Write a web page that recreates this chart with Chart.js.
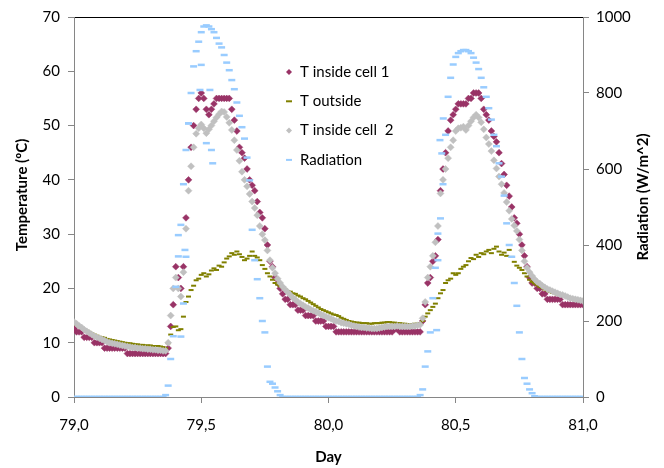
<!DOCTYPE html>
<html>
<head>
<meta charset="utf-8">
<script src="https://cdn.jsdelivr.net/npm/chart.js@4.4.1/dist/chart.umd.min.js"></script>
<style>
  body { margin: 0; background: #fff; }
  #wrap { width: 664px; height: 468px; }
</style>
</head>
<body>
<div id="wrap"><canvas id="chart" width="664" height="468"></canvas></div>
<script>
// one reading every 0.01 day, from day 79.00 to 81.00
const startDay = 79;
const stepDay = 0.01;

const tInsideCell1 = [
  12.6, 12, 12, 12, 11, 11, 11, 11, 10, 10,
  10, 10, 9, 9, 9, 9, 9, 9, 9, 9,
  9, 8, 8, 8, 8, 8, 8, 8, 8, 8,
  8, 8, 8, 8, 8, 8, 8, 9, 13, 17,
  24, 22, 20, 24, 33, 40, 46, 50, 53, 55,
  56, 55, 53, 52, 53, 54, 55, 55, 55, 55,
  55, 55, 53, 51, 49, 46, 45, 44, 42, 40,
  39, 38, 36, 34, 33, 31, 28, 25, 24, 22,
  21, 20, 19, 18, 18, 17, 17, 17, 16, 16,
  16, 15, 15, 15, 15, 14, 14, 14, 14, 13,
  13, 13, 13, 12, 12, 12, 12, 12, 12, 12,
  12, 12, 12, 12, 12, 12, 12, 12, 12, 12,
  12, 12, 12, 12, 12, 12, 12.5, 12.5, 12, 12,
  12, 12, 12, 12, 12, 12, 12, 14, 17, 21,
  22, 25, 26, 29, 38, 42, 45, 49, 51, 52,
  53, 54, 54, 54, 54, 55, 55, 56, 56, 56,
  55, 53, 52, 51, 49, 48, 47, 45, 43, 41,
  39, 37, 35, 33, 32, 30, 28, 26, 24, 22,
  21, 21, 20, 20, 19, 19, 18, 18, 18, 18,
  18, 18, 17, 17, 17, 17, 17, 17, 17, 17,
  17
];

const tOutside = [
  13.6, 13.3, 13.0, 12.7, 12.4, 12.2, 12.0, 11.7, 11.5, 11.3,
  11.1, 11.0, 10.9, 10.7, 10.6, 10.5, 10.4, 10.3, 10.2, 10.1,
  10.0, 9.9, 9.9, 9.8, 9.7, 9.7, 9.6, 9.6, 9.5, 9.5,
  9.5, 9.4, 9.4, 9.4, 9.3, 9.2, 9.0, 9.9, 11.5, 12.9,
  13.0, 12.3, 12.5, 14.8, 17.5, 18.5, 19.7, 20.5, 21.5, 21.8,
  22.5, 22.8, 22.2, 22.6, 23.3, 23.7, 23.4, 24.2, 24.0, 24.8,
  25.5, 25.9, 26.5, 26.2, 26.8, 26.3, 25.8, 25.2, 25.5, 26.0,
  26.8, 26.0, 25.7, 25.2, 24.3, 23.6, 22.8, 22.2, 21.6, 21.0,
  20.7, 20.4, 20.2, 19.8, 19.5, 19.4, 19.1, 19.0, 18.7, 18.5,
  18.2, 18.0, 17.7, 17.4, 17.1, 16.8, 16.5, 16.2, 16.0, 15.8,
  15.6, 15.4, 15.2, 15.1, 14.9, 14.6, 14.4, 14.2, 14.0, 13.9,
  13.8, 13.7, 13.7, 13.6, 13.6, 13.6, 13.5, 13.5, 13.6, 13.6,
  13.6, 13.7, 13.7, 13.8, 13.8, 13.7, 13.7, 13.6, 13.6, 13.5,
  13.5, 13.4, 13.4, 13.4, 13.5, 13.5, 13.6, 14.0, 14.8, 15.4,
  16.0, 16.6, 17.2, 18.2, 19.1, 19.7, 21.0, 21.5, 21.8, 22.8,
  22.5, 22.8, 23.6, 24.0, 24.3, 25.0, 25.6, 25.4, 26.2, 25.8,
  26.5, 26.3, 26.8, 27.1, 26.5, 27.3, 27.7, 26.8, 26.2, 26.6,
  26.0, 27.1, 25.8, 24.9, 24.2, 23.8, 23.4, 22.8, 22.2, 21.6,
  21.2, 20.9, 20.6, 20.3, 20.1, 19.8, 19.6, 19.4, 19.2, 19.1,
  18.9, 18.8, 18.7, 18.6, 18.5, 18.3, 18.2, 18.1, 18.0, 17.9,
  17.9
];

const tInsideCell2 = [
  13.8, 13.5, 13.1, 12.8, 12.4, 12.1, 11.8, 11.5, 11.2, 11.0,
  10.8, 10.6, 10.4, 10.2, 10.0, 9.9, 9.8, 9.7, 9.6, 9.5,
  9.4, 9.3, 9.2, 9.1, 9.1, 9.0, 9.0, 8.9, 8.9, 8.8,
  8.8, 8.7, 8.7, 8.6, 8.6, 8.5, 8.5, 10, 15, 20,
  22, 20, 18.5, 23, 31, 38, 42.5, 46, 48.5, 49.5,
  50.2, 49.5, 48.6, 49.3, 50, 50.8, 51.5, 52.1, 52.6, 52.5,
  51.6, 50.5, 49.2, 47.3, 45.5, 43.5, 41.5, 40.0, 38.8, 37.4,
  36, 34.8, 33.5, 31.5, 30, 28.9, 27, 25.2, 23.8, 22.8,
  21.8, 21, 20.3, 19.8, 19.3, 18.8, 18.3, 17.9, 17.5, 17.2,
  16.9, 16.6, 16.4, 16.1, 15.9, 15.7, 15.5, 15.2, 15.0, 14.8,
  14.6, 14.4, 14.2, 14.0, 13.9, 13.7, 13.6, 13.5, 13.4, 13.2,
  13.1, 13.0, 12.9, 12.8, 12.8, 12.7, 12.7, 12.6, 12.6, 12.6,
  12.7, 12.8, 12.9, 13.0, 13.0, 13.0, 13.0, 13.1, 13.0, 13.0,
  13.0, 13.0, 13.0, 13.1, 13.1, 13.2, 13.3, 14.5, 17.5, 22,
  24, 26, 28.5, 31.5, 37.5, 40, 42, 44, 46, 47.3,
  49, 49.5, 49.6, 49.8, 49.2, 50, 50.8, 51.5, 52, 51.5,
  50.6, 49.3, 47.8, 46.6, 45.3, 43.6, 42.1, 40.6, 39.2, 37.6,
  35.9, 34.3, 32.8, 31.6, 30.6, 29, 27, 25, 23.8, 23,
  22.3, 21.7, 21.2, 20.9, 20.5, 20.2, 19.9, 19.7, 19.5, 19.3,
  19.1, 18.9, 18.8, 18.6, 18.4, 18.2, 18.1, 18.0, 17.9, 17.8,
  17.7
];

const radiation = [
  0, 0, 0, 0, 0, 0, 0, 0, 0, 0,
  0, 0, 0, 0, 0, 0, 0, 0, 0, 0,
  0, 0, 0, 0, 0, 0, 0, 0, 0, 0,
  0, 0, 0, 0, 0, 0, 5, 30, 100, 160,
  290, 370, 453, 560, 650, 720, 800, 870, 910, 935,
  960, 975, 978, 975, 968, 960, 945, 930, 920, 900,
  880, 860, 834, 810, 775, 740, 710, 680, 630, 570,
  440, 360, 310, 260, 200, 170, 80, 40, 35, 25,
  15, 5, 0, 0, 0, 0, 0, 0, 0, 0,
  0, 0, 0, 0, 0, 0, 0, 0, 0, 0,
  0, 0, 0, 0, 0, 0, 0, 0, 0, 0,
  0, 0, 0, 0, 0, 0, 0, 0, 0, 0,
  0, 0, 0, 0, 0, 0, 0, 0, 0, 0,
  0, 0, 0, 0, 0, 0, 5, 20, 80, 120,
  170, 260, 340, 430, 470, 560, 690, 790, 840, 875,
  895, 905, 910, 913, 913, 910, 905, 893, 880, 863,
  840, 815, 790, 760, 730, 690, 660, 615, 580, 530,
  457, 400, 369, 300, 240, 170, 100, 50, 35, 20,
  10, 2, 0, 0, 0, 0, 0, 0, 0, 0,
  0, 0, 0, 0, 0, 0, 0, 0, 0, 0,
  0
];

// scattered radiation readings (passing clouds) off the main curve
const radiationExtraDays = [79.41, 79.42, 79.43, 79.436, 79.44, 79.45, 79.495, 79.50, 79.52, 79.534, 79.54, 79.545, 80.425, 80.43, 80.438, 80.445, 80.451];
const radiationExtraValues = [426, 159, 246, 387, 369, 720, 808, 874, 668, 808, 650, 615, 176, 360, 676, 641, 733];

const xTicks = [79, 79.5, 80, 80.5, 81];

const colorCell1 = '#993366';
const colorOutside = '#808000';
const colorCell2 = '#C0C0C0';
const colorRadiation = '#99CCFF';

const days = tInsideCell1.map((_, i) => +(startDay + i * stepDay).toFixed(2));
const toPoints = (values) => values.map((v, i) => ({ x: days[i], y: v }));

const radiationPoints = toPoints(radiation).concat(
  radiationExtraDays.map((d, i) => ({ x: d, y: radiationExtraValues[i] }))
);

Chart.defaults.font.family = 'Lato';
Chart.defaults.color = '#000';

const axisGray = '#868686';

const legendItems = [
  { text: 'T inside cell 1', style: 'diamond', color: colorCell1 },
  { text: 'T outside', style: 'dash', color: colorOutside },
  { text: 'T inside cell  2', style: 'diamond', color: colorCell2 },
  { text: 'Radiation', style: 'dash', color: colorRadiation }
];

const overlayPlugin = {
  id: 'overlay',
  afterDraw(chart) {
    const ctx = chart.ctx;
    ctx.save();
    // legend inside the plot
    ctx.font = '15px Lato';
    ctx.textBaseline = 'middle';
    ctx.textAlign = 'left';
    legendItems.forEach((item, i) => {
      const y = 72 + i * 29.3;
      ctx.fillStyle = item.color;
      if (item.style === 'diamond') {
        ctx.beginPath();
        ctx.moveTo(289, y - 3);
        ctx.lineTo(292, y);
        ctx.lineTo(289, y + 3);
        ctx.lineTo(286, y);
        ctx.closePath();
        ctx.fill();
      } else {
        ctx.fillRect(286, y - 1, 6, 2);
      }
      ctx.fillStyle = '#000';
      ctx.fillText(item.text, 300, y);
    });
    // vertical axis titles
    ctx.font = 'bold 15px Lato';
    ctx.textAlign = 'center';
    ctx.translate(22, 195);
    ctx.rotate(-Math.PI / 2);
    ctx.fillText('Temperature (ºC)', 0, 0);
    ctx.restore();
    ctx.save();
    ctx.font = 'bold 15px Lato';
    ctx.textAlign = 'center';
    ctx.textBaseline = 'middle';
    ctx.fillStyle = '#000';
    ctx.translate(643, 197);
    ctx.rotate(-Math.PI / 2);
    ctx.fillText('Radiation (W/m^2)', 0, 0);
    ctx.restore();
  }
};

new Chart(document.getElementById('chart'), {
  type: 'scatter',
  data: {
    datasets: [
      {
        label: 'T inside cell 1',
        data: toPoints(tInsideCell1),
        yAxisID: 'y',
        order: 3,
        pointStyle: 'rectRot',
        pointRadius: 3.4,
        pointBackgroundColor: colorCell1,
        pointBorderColor: colorCell1,
        pointBorderWidth: 0.5
      },
      {
        label: 'T outside',
        data: toPoints(tOutside),
        yAxisID: 'y',
        order: 2,
        pointStyle: 'line',
        pointRadius: 2.5,
        pointBorderColor: colorOutside,
        pointBorderWidth: 2
      },
      {
        label: 'T inside cell  2',
        data: toPoints(tInsideCell2),
        yAxisID: 'y',
        order: 1,
        pointStyle: 'rectRot',
        pointRadius: 3.5,
        pointBackgroundColor: colorCell2,
        pointBorderColor: colorCell2,
        pointBorderWidth: 0.5
      },
      {
        label: 'Radiation',
        data: radiationPoints,
        yAxisID: 'y1',
        order: 0,
        pointStyle: 'line',
        pointRadius: 3.5,
        pointBorderColor: colorRadiation,
        pointBorderWidth: 2.5
      }
    ]
  },
  options: {
    responsive: false,
    animation: false,
    events: [],
    layout: { padding: 0 },
    plugins: {
      legend: { display: false },
      tooltip: { enabled: false }
    },
    scales: {
      x: {
        type: 'linear',
        position: 'bottom',
        min: 79,
        max: 81,
        afterBuildTicks: (scale) => { scale.ticks = xTicks.map(v => ({ value: v })); },
        afterFit: (scale) => { scale.height = 71; },
        grid: { display: true, drawOnChartArea: false, tickLength: 6, color: axisGray },
        border: { display: true, color: axisGray, width: 1 },
        ticks: {
          padding: 13,
          font: { size: 15 },
          callback: (v) => v.toFixed(1).replace('.', ',')
        },
        title: {
          display: true,
          text: 'Day',
          font: { size: 15, weight: 'bold' },
          padding: { top: 0, bottom: 2 }
        }
      },
      xTop: {
        type: 'linear',
        axis: 'x',
        position: 'top',
        min: 79,
        max: 81,
        afterFit: (scale) => { scale.height = 17; },
        grid: { display: false },
        ticks: { display: false },
        border: { display: true, color: '#000', width: 1 }
      },
      y: {
        type: 'linear',
        position: 'left',
        min: 0,
        max: 70,
        afterFit: (scale) => { scale.width = 74; },
        grid: { display: true, drawOnChartArea: false, tickLength: 6, color: axisGray },
        border: { display: true, color: axisGray, width: 1 },
        ticks: { stepSize: 10, padding: 8, font: { size: 15 }, callback: (v) => String(v) }
      },
      y1: {
        type: 'linear',
        position: 'right',
        min: 0,
        max: 1000,
        afterFit: (scale) => { scale.width = 81; },
        grid: { display: true, drawOnChartArea: false, tickLength: 6, color: axisGray },
        border: { display: true, color: axisGray, width: 1 },
        ticks: { stepSize: 200, padding: 7, font: { size: 15 }, callback: (v) => String(v) }
      }
    }
  },
  plugins: [overlayPlugin]
});
</script>
</body>
</html>
